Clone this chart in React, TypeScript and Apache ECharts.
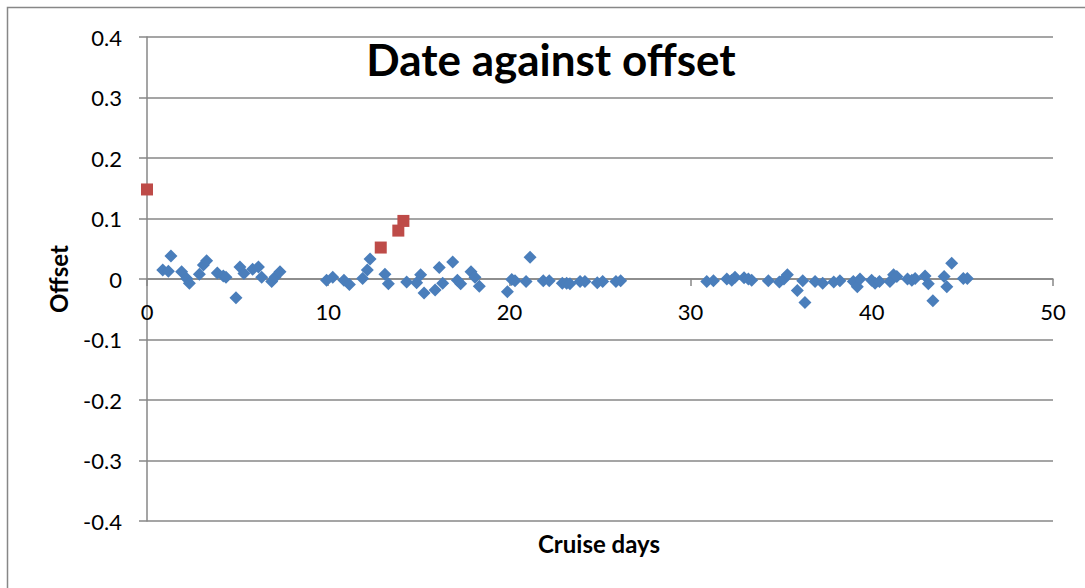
import React, { useEffect, useRef } from "react";
import * as echarts from "echarts";

const blueX = [
  0.87, 1.18, 1.32, 1.91, 2.19, 2.34, 2.89, 3.11, 3.29, 3.88, 4.21, 4.36, 4.91, 5.13, 5.35, 5.83, 6.15, 6.33, 6.88, 7.06, 7.34,
  9.91, 10.25, 10.87, 11.17, 11.9, 12.16, 12.31, 13.13, 13.32, 14.33, 14.88, 15.1, 15.29, 15.9, 16.13, 16.32, 16.87, 17.13, 17.31, 17.88, 18.1, 18.34,
  19.89, 20.13, 20.31, 20.92, 21.14, 21.87, 22.2, 22.92, 23.16, 23.34, 23.9, 24.17, 24.85, 25.15, 25.88, 26.14,
  30.89, 31.26, 32.0, 32.27, 32.45, 32.95, 33.19, 33.37, 34.29, 34.9, 35.15, 35.34, 35.89, 36.19, 36.31, 36.87, 37.29, 37.9, 38.24,
  38.98, 39.2, 39.35, 39.99, 40.18, 40.42, 41.0, 41.2, 41.38, 41.97, 42.21, 42.39, 42.94, 43.12, 43.37, 43.99, 44.14, 44.41, 45.05, 45.27,
];
const blueY = [
  0.015, 0.013, 0.038, 0.012, 0.001, -0.007, 0.008, 0.023, 0.03, 0.01, 0.005, 0.003, -0.031, 0.02, 0.009, 0.016, 0.02, 0.003, -0.004, 0.003, 0.012,
  -0.002, 0.003, -0.002, -0.009, 0.001, 0.015, 0.033, 0.008, -0.008, -0.005, -0.006, 0.007, -0.023, -0.018, 0.019, -0.007, 0.028, -0.002, -0.008, 0.012, 0.003, -0.012,
  -0.021, -0.001, -0.003, -0.004, 0.036, -0.003, -0.003, -0.007, -0.007, -0.008, -0.004, -0.004, -0.006, -0.004, -0.004, -0.003,
  -0.004, -0.003, 0, -0.002, 0.003, 0.002, 0, -0.002, -0.003, -0.005, 0, 0.007, -0.019, -0.003, -0.039, -0.004, -0.007, -0.005, -0.003,
  -0.004, -0.013, 0, -0.002, -0.007, -0.004, -0.004, 0.007, 0.004, 0, -0.002, 0.001, 0.005, -0.008, -0.036, 0.004, -0.013, 0.026, 0.001, 0.001,
];
const redX = [0, 12.9, 13.87, 14.15];
const redY = [0.148, 0.052, 0.08, 0.096];

const xTicks = { min: 0, max: 50, interval: 10 };
const yTicks = { min: -0.4, max: 0.4, interval: 0.1 };

const titleText = "Date against offset";
const xName = "Cruise days";
const yName = "Offset";

const gray = "#878787";
const font = "Lato, 'Open Sans', sans-serif";

export default function App() {
  const ref = useRef<HTMLDivElement>(null);
  useEffect(() => {
    if (!ref.current) return;
    const chart = echarts.init(ref.current, null, { renderer: "svg" });
    chart.setOption({
      animation: false,
      backgroundColor: "#ffffff",
      grid: { left: 147, top: 37, right: 32, bottom: 67, containLabel: false },
      xAxis: {
        type: "value",
        min: xTicks.min,
        max: xTicks.max,
        interval: xTicks.interval,
        offset: -242,
        axisLine: { show: true, onZero: false, lineStyle: { color: gray, width: 1.5 } },
        axisTick: { show: true, inside: false, length: 7, lineStyle: { color: gray, width: 1.5 } },
        axisLabel: { color: "#000", fontSize: 22, fontFamily: font, margin: 21 },
        splitLine: { show: false },
      },
      yAxis: {
        type: "value",
        min: yTicks.min,
        max: yTicks.max,
        interval: yTicks.interval,
        axisLine: { show: true, onZero: false, lineStyle: { color: gray, width: 1.5 } },
        axisTick: { show: true, inside: false, length: 8, lineStyle: { color: gray, width: 1.5 } },
        axisLabel: {
          color: "#000",
          fontSize: 22,
          fontFamily: font,
          margin: 25,
          formatter: (v: number) => {
            const s = v.toFixed(1);
            return s === "0.0" || s === "-0.0" ? "0" : s;
          },
        },
        splitLine: { show: true, lineStyle: { color: gray, width: 1.5 } },
      },
      graphic: [
        {
          type: "rect",
          shape: { x: 7.5, y: 7.5, width: 1100, height: 600 },
          style: { fill: "none", stroke: gray, lineWidth: 1.5 },
          silent: true,
        },
        {
          type: "text",
          x: 551,
          y: 59,
          style: { text: titleText, fill: "#000", font: `bold 44px ${font}`, textAlign: "center", textVerticalAlign: "middle" },
        },
        {
          type: "text",
          x: 599,
          y: 543,
          style: { text: xName, fill: "#000", font: `bold 24px ${font}`, textAlign: "center", textVerticalAlign: "middle" },
        },
        {
          type: "text",
          x: 58,
          y: 279,
          rotation: Math.PI / 2,
          style: { text: yName, fill: "#000", font: `bold 24px ${font}`, textAlign: "center", textVerticalAlign: "middle" },
        },
      ],
      series: [
        {
          type: "scatter",
          symbol: "diamond",
          symbolSize: 13,
          itemStyle: { color: "#4A7EBB", opacity: 1 },
          data: blueX.map((x, i) => [x, blueY[i]]),
        },
        {
          type: "scatter",
          symbol: "rect",
          symbolSize: 12,
          itemStyle: { color: "#BE4B48", opacity: 1 },
          data: redX.map((x, i) => [x, redY[i]]),
        },
      ],
    });
    return () => chart.dispose();
  }, []);
  return <div ref={ref} style={{ position: "fixed", left: 0, top: 0, width: 1085, height: 588 }} />;
}
